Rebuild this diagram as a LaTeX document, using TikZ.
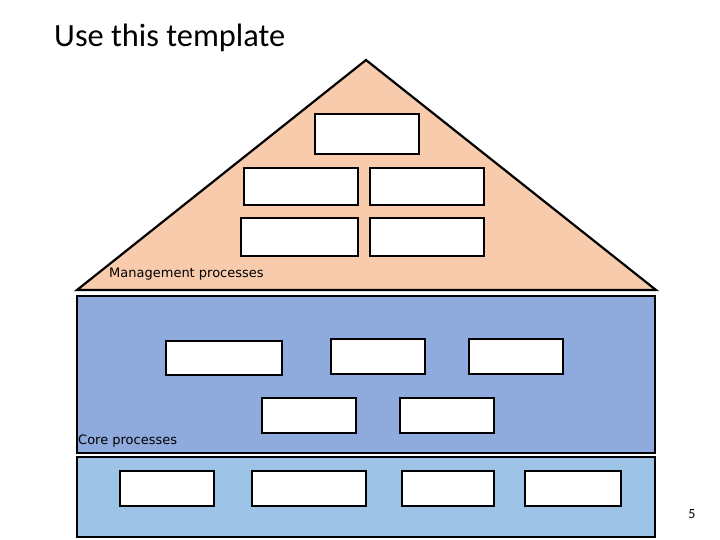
\documentclass[tikz,border=0pt]{standalone}
\usepackage{fontspec}
\setmainfont{Carlito}
\newfontfamily\lblfont{DejaVu Sans}
\definecolor{roof}{HTML}{F8CBAD}
\definecolor{core}{HTML}{8FAADC}
\definecolor{base}{HTML}{9DC3E6}
\tikzset{
  wbox/.style={draw=black, fill=white, line width=2pt, inner sep=0pt},
  band/.style={draw=black, line width=2.2pt, line join=miter},
  lbl/.style={font=\lblfont\fontsize{13}{15}\selectfont, inner sep=0pt, anchor=base west},
}
\newcommand{\bx}[5]{\node[wbox, minimum width={#4-#2}, minimum height={#5-#3}] (#1) at ({(#2+#4)/2},{(#3+#5)/2}) {};}
\begin{document}
\begin{tikzpicture}[x=1pt,y=-1pt]
\useasboundingbox (0,0) rectangle (720,540);
% title
\node[font=\fontsize{32.4}{36}\selectfont, anchor=base west, inner sep=0pt] (title) at (54,47) {Use this template};
% roof
\draw[band, fill=roof] (77,290) -- (366,60) -- (656,290) -- cycle;
\node[lbl] (mgmt) at (109,277) {Management processes};
\bx{m1}{315}{114}{419}{154}
\bx{m2}{244}{168}{358}{205}
\bx{m3}{370}{168}{484}{205}
\bx{m4}{241}{218}{358}{256}
\bx{m5}{370}{218}{484}{256}
% core
\draw[band, fill=core] (77,296) rectangle (655,453);
\node[lbl] (corelbl) at (78,444) {Core processes};
\bx{c1}{166}{341}{282}{375}
\bx{c2}{331}{339}{425}{374}
\bx{c3}{469}{339}{563}{374}
\bx{c4}{262}{398}{356}{433}
\bx{c5}{400}{398}{494}{433}
% base
\draw[band, fill=base] (77,457) rectangle (655,537);
\bx{b1}{120}{471}{214}{506}
\bx{b2}{252}{471}{366}{506}
\bx{b3}{402}{471}{494}{506}
\bx{b4}{525}{471}{621}{506}
% page number
\node[font=\fontsize{14}{16}\selectfont, inner sep=0pt] (pg) at (692,514) {5};
\end{tikzpicture}
\end{document}
